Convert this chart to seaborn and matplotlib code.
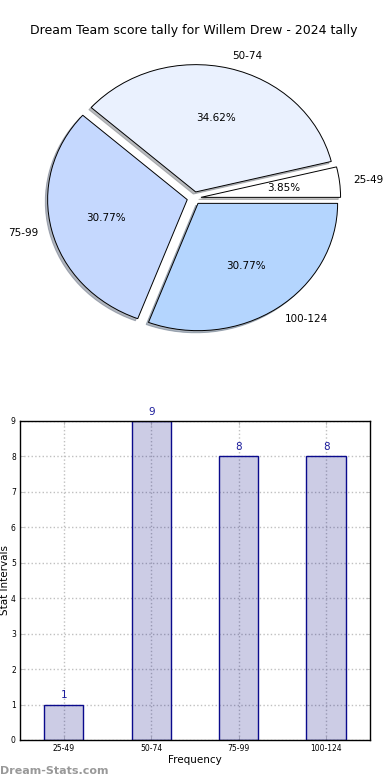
import matplotlib
matplotlib.use("Agg")
import matplotlib.pyplot as plt
import pandas as pd
import seaborn as sns

TITLE = "Dream Team score tally for Willem Drew - 2024 tally"
INTERVALS = ["25-49", "50-74", "75-99", "100-124"]
COUNTS = [1, 9, 8, 8]
PIE_COLORS = ["#ffffff", "#eaf1fe", "#c5d8fe", "#b4d5fe"]

sns.set_style("ticks")
plt.rcParams['font.family'] = ["DejaVu Sans"]
plt.rcParams['text.color'] = "black"
plt.rcParams['axes.labelcolor'] = "black"
plt.rcParams['xtick.labelcolor'] = "black"
plt.rcParams['ytick.labelcolor'] = "black"


def make_pie(ax):
    """Exploded pie of the score intervals, with shadow."""
    ax.pie(COUNTS, labels=INTERVALS, colors=PIE_COLORS, autopct="%1.2f%%",
           explode=[0.05] * len(COUNTS), startangle=0,
           shadow={"ox": -0.012, "oy": -0.012, "shade": 0.5},
           wedgeprops={"edgecolor": "black", "linewidth": 0.7},
           textprops={"fontsize": 7.5})
    ax.set_aspect("auto")
    ax.set_title(TITLE, fontsize=9, pad=3.5)


def make_bars(ax):
    """Bar chart of frequency per interval."""
    df = pd.DataFrame({"interval": INTERVALS, "count": COUNTS})
    sns.barplot(data=df, x="interval", y="count", ax=ax, width=0.45,
                color="navy", saturation=1, edgecolor="#0a0a8c",
                linewidth=1)
    # translucent face so the grid shows through, solid edge on top
    for patch in ax.patches:
        patch.set_facecolor((0, 0, 0.5, 0.2))
        patch.set_zorder(3)
    ax.set_xlim(-0.5, 3.5)
    ax.set_ylim(0, 9)
    ax.set_yticks(range(10))
    ax.grid(True, linestyle=":", color="#c0c0c0", linewidth=1, zorder=2)
    ax.set_axisbelow(True)
    ax.tick_params(labelsize=5.5, direction="in", top=True, right=True,
                   length=3, width=0.6, color="#bbbbbb", pad=3)
    for spine in ax.spines.values():
        spine.set_visible(True)
        spine.set_linewidth(1)
        spine.set_color("black")
        spine.set_zorder(4)
    for x, c in enumerate(COUNTS):
        ax.text(x, c + 0.12, str(c), ha="center", va="bottom", fontsize=7.5,
                color="#1c1c9c")
    ax.set_xlabel("Frequency", fontsize=7.5, labelpad=1)
    ax.set_ylabel("Stat Intervals", fontsize=7.5, labelpad=1)


def main():
    fig = plt.figure(figsize=(3.9, 7.8), dpi=100)
    ax_pie = fig.add_axes([0.05, 0.542, 0.895, 0.408])
    make_pie(ax_pie)
    ax_bar = fig.add_axes([0.0513, 0.0513, 0.897, 0.409])
    make_bars(ax_bar)
    fig.text(0.0, 0.005, "Dream-Stats.com", fontsize=8, color="#999999",
             fontweight="bold", ha="left", va="bottom")
    fig.savefig("out.png", dpi=100)
    plt.close(fig)


if __name__ == '__main__':
    main()
